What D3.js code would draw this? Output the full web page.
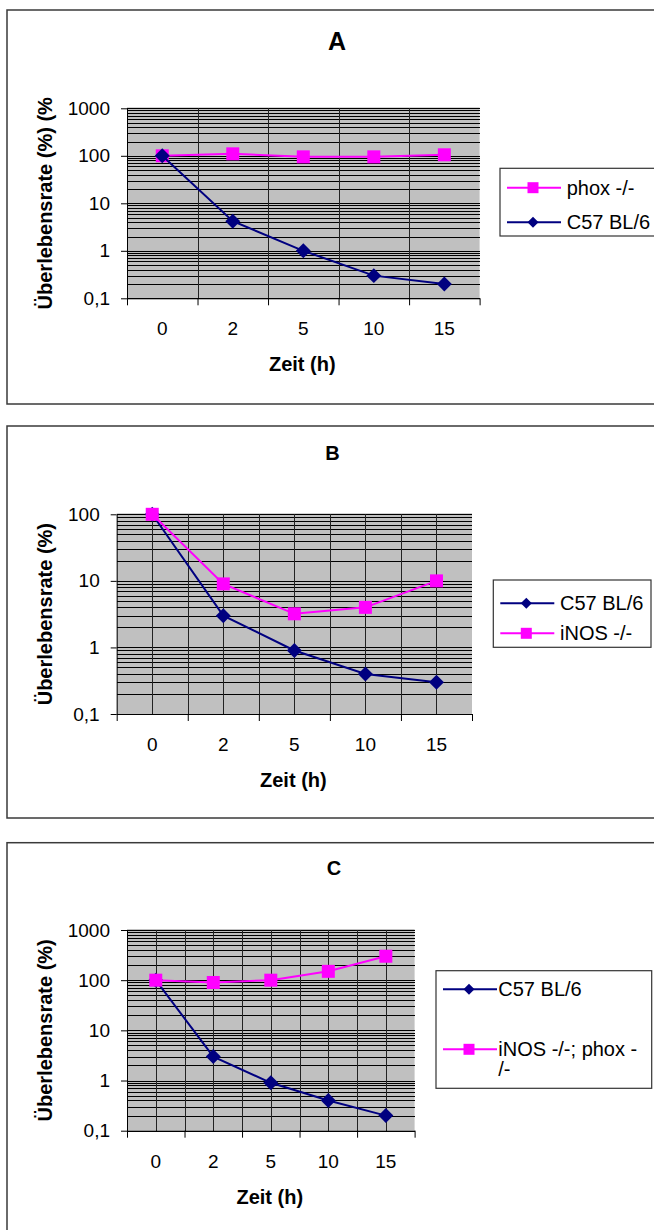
<!DOCTYPE html>
<html lang="de">
<head>
<meta charset="UTF-8">
<title>Überlebensrate</title>
<script src="https://d3js.org/d3.v7.min.js"></script>
<style>
  body { margin: 0; background: #fff; }
  svg { display: block; font-family: Arial, "Liberation Sans", sans-serif; }
  .grid line { shape-rendering: crispEdges; }
</style>
</head>
<body>
<svg id="main" width="654" height="1230"></svg>
<script>
// data
const times = ["0", "2", "5", "10", "15"];
const yTicks3 = [0.1, 1, 10, 100, 1000];
const yTicks2 = [0.1, 1, 10, 100];

const phoxA = [100, 110, 95, 95, 105];
const c57A  = [100, 4.2, 1, 0.3, 0.2];

const c57B  = [100, 3, 0.9, 0.4, 0.3];
const inosB = [100, 9, 3.2, 4, 10];

const c57C  = [100, 3, 0.9, 0.4, 0.2];
const dkoC  = [100, 90, 100, 150, 300];

const PINK = "#ff00ff", NAVY = "#000080";

const panels = [
  { frame: [7, 10, 404], title: "A", tx: 337, ty: 50, tsize: 25,
    plot: { l: 127, r: 479.6, t: 108.3, b: 298.3 }, ticks: yTicks3,
    yTitle: "Überlebensrate (%) (%", halfGrid: false,
    legend: { x: 500, x1: 700, y0: 168.3, y1: 236, dt: 66.7, rows: [187.7, 222.3] },
    series: [
      { name: ["phox  -/-"], values: phoxA, color: PINK, marker: "square" },
      { name: ["C57 BL/6"], values: c57A, color: NAVY, marker: "diamond" }
    ] },
  { frame: [7, 426, 818], title: "B", tx: 332.5, ty: 460, tsize: 20,
    plot: { l: 116.7, r: 472, t: 514.3, b: 714 }, ticks: yTicks2,
    yTitle: "Überlebensrate (%)", halfGrid: true,
    legend: { x: 493.3, x1: 651, y0: 580, y1: 647.3, dt: 66.7, rows: [603.3, 633.3] },
    series: [
      { name: ["C57 BL/6"], values: c57B, color: NAVY, marker: "diamond" },
      { name: ["iNOS -/-"], values: inosB, color: PINK, marker: "square" }
    ] },
  { frame: [7, 842.7, 1300], title: "C", tx: 334, ty: 875, tsize: 20,
    plot: { l: 127, r: 414.6, t: 930, b: 1130.7 }, ticks: yTicks3,
    yTitle: "Überlebensrate (%)", halfGrid: true,
    legend: { x: 436, x1: 651.7, y0: 970.7, y1: 1088.3, dt: 62.3, rows: [989.3, 1049.3] },
    series: [
      { name: ["C57 BL/6"], values: c57C, color: NAVY, marker: "diamond" },
      { name: ["iNOS -/-; phox -", "/-"], values: dkoC, color: PINK, marker: "square" }
    ] }
];

const svg = d3.select("#main");

function markerPath(kind, big) {
  if (kind === "square") return d3.symbol(d3.symbolSquare, big ? 169 : 121)();
  return d3.symbol(d3.symbolSquare, big ? 112 : 61)();
}
function markerRot(kind) { return kind === "diamond" ? " rotate(45)" : ""; }

panels.forEach(function (p) {
  const g = svg.append("g");
  const P = p.plot;

  // panel frame
  g.append("rect")
    .attr("x", p.frame[0]).attr("y", p.frame[1])
    .attr("width", 800).attr("height", p.frame[2] - p.frame[1])
    .attr("fill", "#fff").attr("stroke", "#3a3a3a").attr("stroke-width", 1.5);

  g.append("text").attr("x", p.tx).attr("y", p.ty)
    .attr("text-anchor", "middle").attr("font-weight", "bold")
    .attr("font-size", p.tsize).text(p.title);

  const n = times.length;
  const xBand = d3.scaleBand().domain(times).range([P.l, P.r]).padding(0);
  const xPos = d3.scaleLinear().domain([0, n]).range([P.l, P.r]);
  const y = d3.scaleLog().domain([p.ticks[0], p.ticks[p.ticks.length - 1]]).range([P.b, P.t]);

  g.append("rect").attr("x", P.l).attr("y", P.t - 1)
    .attr("width", P.r - P.l).attr("height", P.b - P.t + 1)
    .attr("fill", "#c0c0c0");

  // horizontal grid: decades plus 2..9 in each
  const minor = [];
  for (let i = 0; i < p.ticks.length - 1; i++) {
    for (let k = 1; k <= 9; k++) minor.push(p.ticks[i] * k);
  }
  minor.push(p.ticks[p.ticks.length - 1]);
  const grid = g.append("g").attr("class", "grid");
  grid.selectAll("line.h").data(minor).join("line").attr("class", "h")
    .attr("x1", P.l).attr("x2", P.r)
    .attr("y1", d => Math.round(y(d)) + 0.5).attr("y2", d => Math.round(y(d)) + 0.5)
    .attr("stroke", "#000").attr("stroke-width", 1);

  const step = p.halfGrid ? 0.5 : 1;
  grid.selectAll("line.v").data(d3.range(step, n, step)).join("line").attr("class", "v")
    .attr("x1", d => Math.round(xPos(d)) + 0.5).attr("x2", d => Math.round(xPos(d)) + 0.5)
    .attr("y1", P.t).attr("y2", P.b)
    .attr("stroke", "#222").attr("stroke-width", 1);

  // axes
  const yAxis = g.append("g").attr("transform", `translate(${P.l},0)`)
    .call(d3.axisLeft(y).tickValues(p.ticks).tickSize(6).tickSizeOuter(0).tickPadding(11)
      .tickFormat(d => String(d).replace(".", ",")));
  yAxis.selectAll("text").attr("font-size", 19).attr("fill", "#000").attr("font-family", null);
  yAxis.selectAll("line,path").attr("stroke", "#000");

  const xTicks = g.append("g").attr("transform", `translate(0,${P.b})`)
    .call(d3.axisBottom(xPos).tickValues(d3.range(0, n + 1)).tickSize(7).tickSizeOuter(0).tickFormat(""));
  xTicks.selectAll("line,path").attr("stroke", "#000");

  const xLab = g.append("g").attr("transform", `translate(0,${P.b})`)
    .call(d3.axisBottom(xBand).tickSize(0));
  xLab.select(".domain").remove();
  xLab.selectAll("text").attr("dy", null).attr("y", 37)
    .attr("font-size", 19).attr("fill", "#000").attr("font-family", null);

  // axis titles
  g.append("text").attr("x", (P.l + P.r) / 2 - 1).attr("y", P.b + 73)
    .attr("text-anchor", "middle").attr("font-weight", "bold").attr("font-size", 20)
    .text("Zeit (h)");
  g.append("text")
    .attr("transform", `translate(52,${(P.t + P.b) / 2}) rotate(-90)`)
    .attr("text-anchor", "middle").attr("font-weight", "bold").attr("font-size", 20)
    .text(p.yTitle);

  // series
  const line = d3.line().x((d, i) => xBand(times[i]) + xBand.bandwidth() / 2).y(d => y(d));
  p.series.forEach(function (s) {
    const sg = g.append("g");
    sg.append("path").datum(s.values).attr("d", line)
      .attr("fill", "none").attr("stroke", s.color).attr("stroke-width", 2);
    sg.selectAll("path.m").data(s.values).join("path").attr("class", "m")
      .attr("d", markerPath(s.marker, true))
      .attr("transform", (d, i) => `translate(${xBand(times[i]) + xBand.bandwidth() / 2},${y(d)})` + markerRot(s.marker))
      .attr("fill", s.color);
  });

  // legend
  const L = p.legend;
  const lg = g.append("g");
  lg.append("rect").attr("x", L.x).attr("y", L.y0)
    .attr("width", L.x1 - L.x).attr("height", L.y1 - L.y0)
    .attr("fill", "#fff").attr("stroke", "#333").attr("stroke-width", 1.2);
  p.series.forEach(function (s, i) {
    const ly = L.rows[i];
    lg.append("line").attr("x1", L.x + 7).attr("x2", L.x + 61).attr("y1", ly).attr("y2", ly)
      .attr("stroke", s.color).attr("stroke-width", 2);
    lg.append("path").attr("d", markerPath(s.marker, false))
      .attr("transform", `translate(${L.x + 33},${ly})` + markerRot(s.marker))
      .attr("fill", s.color);
    s.name.forEach(function (t, j) {
      lg.append("text").attr("x", L.x + L.dt).attr("y", ly + 7 + j * 20)
        .attr("font-size", 20).attr("fill", "#000").text(t);
    });
  });
});
</script>
</body>
</html>
